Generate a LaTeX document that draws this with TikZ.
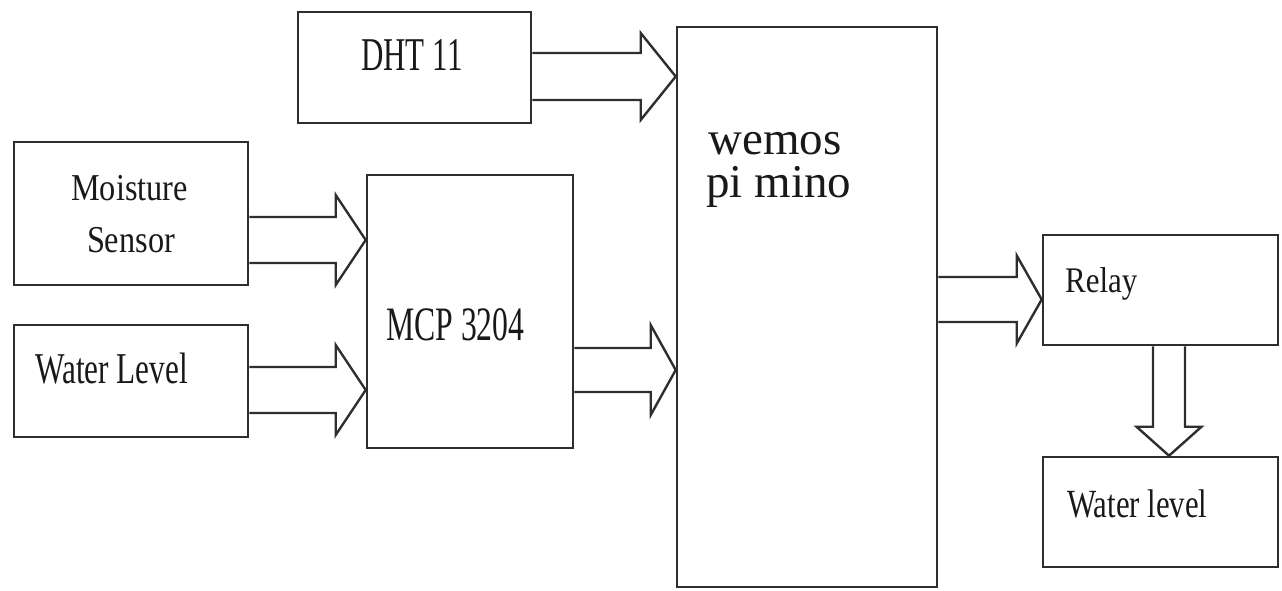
\documentclass[tikz,border=0pt]{standalone}
\usepackage{fontspec}
\setmainfont{Liberation Serif}
\newfontfamily\tmsfont{Liberation Serif}
\usetikzlibrary{calc}
\newcommand\lbl[3]{\scalebox{#2}[1]{\fontsize{#1}{#1}\tmsfont #3}}
\newcommand\harrow[6]{%
  \draw[arr] ($(#1.east |- 0,#3)+(0,-#4)$) -- ($(#2.west |- 0,#3)+(-#6,-#4)$) -- ($(#2.west |- 0,#3)+(-#6,-#5)$) -- (#2.west |- 0,#3) -- ($(#2.west |- 0,#3)+(-#6,#5)$) -- ($(#2.west |- 0,#3)+(-#6,#4)$) -- ($(#1.east |- 0,#3)+(0,#4)$);}
\newcommand\varrow[6]{%
  \draw[arr] ($(#1.south -| #3,0)+(-#4,0)$) -- ($(#2.north -| #3,0)+(-#4,-#6)$) -- ($(#2.north -| #3,0)+(-#5,-#6)$) -- (#2.north -| #3,0) -- ($(#2.north -| #3,0)+(#5,-#6)$) -- ($(#2.north -| #3,0)+(#4,-#6)$) -- ($(#1.south -| #3,0)+(#4,0)$);}
\begin{document}
\begin{tikzpicture}[x=1pt,y=-1pt,
  blk/.style={draw=black!82, line width=2.6pt, inner sep=0pt, rectangle},
  arr/.style={draw=black!82, line width=2.4pt},
  txt/.style={inner sep=0pt, anchor=base west, text=black!90, font=\tmsfont}]
\useasboundingbox (0,0) rectangle (1282,590);
% boxes
\node[blk, minimum width=233pt, minimum height=111pt] (dht) at (414.5,67.5) {};
\node[blk, minimum width=234pt, minimum height=143pt] (moist) at (131,213.5) {};
\node[blk, minimum width=234pt, minimum height=112pt] (wlev) at (131,381) {};
\node[blk, minimum width=206pt, minimum height=273pt] (mcp) at (470,311.5) {};
\node[blk, minimum width=260pt, minimum height=560pt] (wemos) at (807,307) {};
\node[blk, minimum width=235pt, minimum height=110pt] (relay) at (1160.5,290) {};
\node[blk, minimum width=235pt, minimum height=110pt] (wlev2) at (1160.5,512) {};
% labels
\node[txt] (tdht) at (361,70) {\lbl{47}{0.66}{DHT 11}};
\node[txt, anchor=base] (tmoist1) at (129.5,200) {\lbl{38}{0.85}{Moisture}};
\node[txt, anchor=base] (tmoist2) at (131,252) {\lbl{38}{0.85}{Sensor}};
\node[txt] (twlev) at (35,383) {\lbl{44}{0.71}{Water Level}};
\node[txt] (tmcp) at (386,340) {\lbl{48}{0.66}{MCP 3204}};
\node[txt] (twemos1) at (708,154) {\fontsize{47}{47}\tmsfont wemos};
\node[txt] (twemos2) at (706,197) {\fontsize{47}{47}\tmsfont pi mino};
\node[txt] (trelay) at (1065,292) {\lbl{36}{0.86}{Relay}};
\node[txt] (twlev2) at (1067,517) {\lbl{40}{0.77}{Water level}};
% block arrows
\harrow{dht}{wemos}{76.5}{23.5}{43.5}{35}
\harrow{moist}{mcp}{240}{23}{45}{30}
\harrow{wlev}{mcp}{390}{23}{45}{30}
\harrow{mcp}{wemos}{370}{22}{45}{25}
\harrow{wemos}{relay}{299.5}{22.5}{44}{25}
\varrow{relay}{wlev2}{1169}{16}{32.5}{29}
\end{tikzpicture}
\end{document}
